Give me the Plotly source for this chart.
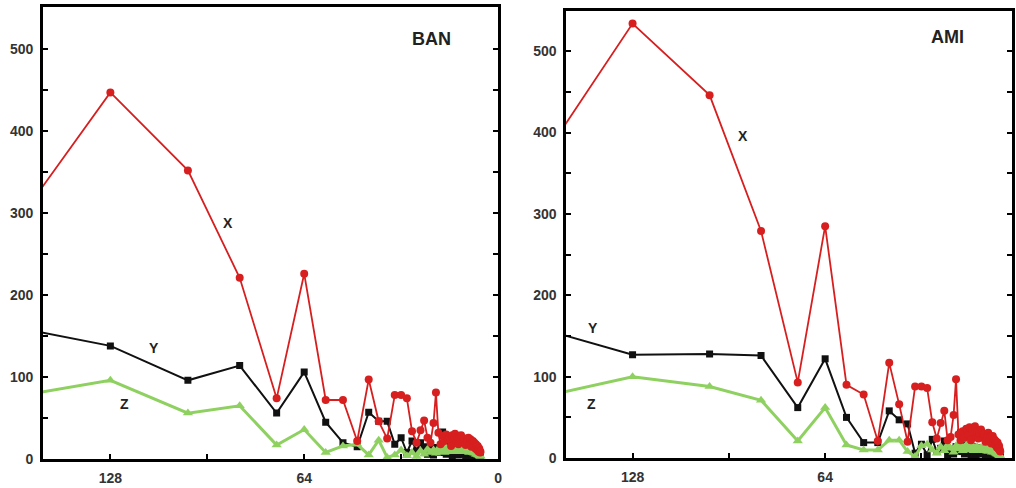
import plotly.graph_objects as go

# Shared abscissa (harmonic positions)
x_pos = [170.7, 128, 102.4, 85.3, 73.1, 64, 56.9, 51.2, 46.5, 42.7, 39.4, 36.6, 34.1, 32.0,
         30.1, 28.4, 26.9, 25.6, 24.4, 23.3, 22.3, 21.3, 20.5, 19.7, 19.0, 18.3, 17.7, 17.1,
         16.5, 16.0, 15.5, 15.1, 14.6, 14.2, 13.8, 13.5, 13.1, 12.8, 12.2, 11.6, 11.1, 10.7,
         10.2, 9.8, 9.5, 9.1, 8.8, 8.5, 8.3, 8.0, 7.8, 7.5, 7.3, 7.1, 6.9, 6.7, 6.6, 6.4,
         6.2, 6.1, 5.9, 5.8]

# BAN panel
ban_x = [228, 447, 352, 221, 74, 226, 72, 72, 22, 97, 46, 25, 78, 78, 74, 34, 20, 35, 47, 26,
         20, 44, 81, 32, 18, 28, 22, 30, 24, 27, 16, 29, 24, 31, 20, 27, 18, 26, 29, 21, 25,
         17, 23, 26, 18, 24, 15, 21, 22, 16, 20, 13, 18, 15, 11, 16, 12, 9, 13, 10, 8, 9]
ban_y = [169, 138, 96, 114, 56, 106, 45, 20, 15, 57, 46, 46, 18, 26, 8, 22, 10, 20, 15, 6,
         12, 5, 14, 10, 8, 33, 12, 6, 18, 9, 14, 4, 11, 16, 7, 12, 5, 14, 9, 6, 12, 4, 10, 7,
         3, 9, 6, 2, 8, 5, 3, 6, 4, 2, 5, 3, 1, 4, 2, 1, 3, 2]
ban_z = [69, 96, 56, 65, 17, 36, 8, 16, 18, 5, 23, 2, 5, 11, 4, 8, 3, 10, 6, 12, 8, 11, 7,
         13, 9, 12, 8, 14, 10, 12, 9, 13, 11, 14, 9, 12, 10, 13, 11, 12, 9, 11, 10, 12, 8,
         11, 9, 10, 8, 9, 7, 9, 6, 8, 6, 7, 5, 6, 5, 4, 4, 3]

# AMI panel
ami_x = [297, 534, 446, 279, 93, 285, 90, 78, 21, 117, 66, 20, 88, 88, 86, 44, 24, 43, 58,
         22, 26, 53, 97, 29, 22, 33, 25, 36, 28, 38, 22, 34, 30, 39, 26, 33, 24, 31, 35, 25,
         30, 20, 28, 31, 22, 27, 18, 25, 27, 19, 23, 16, 21, 18, 13, 19, 14, 11, 15, 12, 9, 8]
ami_y = [172, 127, 128, 126, 62, 122, 50, 19, 19, 58, 47, 42, 6, 17, 4, 23, 8, 12, 21, 4, 9,
         5, 14, 8, 31, 10, 5, 16, 8, 12, 4, 14, 7, 11, 3, 13, 6, 9, 12, 5, 10, 3, 8, 11, 4, 7,
         2, 9, 5, 3, 6, 2, 5, 3, 1, 4, 2, 1, 3, 1, 2, 1]
ami_z = [65, 100, 88, 71, 21, 62, 16, 10, 10, 22, 22, 8, 2, 15, 17, 10, 6, 14, 9, 16, 12, 7,
         15, 11, 17, 9, 13, 16, 10, 14, 12, 15, 9, 13, 11, 14, 10, 12, 13, 9, 12, 10, 11, 8,
         11, 9, 10, 7, 9, 8, 7, 8, 6, 7, 5, 6, 5, 4, 4, 3, 3, 2]

x_ticks = [128, 64, 0]
x_minor = [96, 32]
y_ticks = [0, 100, 200, 300, 400, 500]
y_minor = [50, 150, 250, 350, 450, 550]

RED = "#d71f1f"
BLACK = "#111111"
GREEN = "#8fd160"

fig = go.Figure()


def add_panel(xa, ya, xs, ys, zs):
    fig.add_trace(go.Scatter(x=x_pos, y=ys, mode="lines+markers", xaxis=xa, yaxis=ya,
                             line=dict(color=BLACK, width=2),
                             marker=dict(symbol="square", size=7, color=BLACK)))
    fig.add_trace(go.Scatter(x=x_pos, y=zs, mode="lines+markers", xaxis=xa, yaxis=ya,
                             line=dict(color=GREEN, width=3),
                             marker=dict(symbol="triangle-up", size=9, color=GREEN)))
    fig.add_trace(go.Scatter(x=x_pos, y=xs, mode="lines+markers", xaxis=xa, yaxis=ya,
                             line=dict(color=RED, width=1.8),
                             marker=dict(symbol="circle", size=8, color=RED)))


add_panel("x", "y", ban_x, ban_y, ban_z)
add_panel("x2", "y2", ami_x, ami_y, ami_z)

tickfont = dict(family="Liberation Sans, Arial", size=14, color="#333333", weight="bold")
common_x = dict(showline=True, linecolor="black", linewidth=2.5, mirror=True, showgrid=False,
                zeroline=False, ticks="inside", ticklen=5, tickwidth=1.5, tickcolor="black",
                tickvals=x_ticks, ticktext=[str(v) for v in x_ticks], tickfont=tickfont,
                minor=dict(tickvals=x_minor, ticks="inside", ticklen=5, tickwidth=1.5,
                           tickcolor="black"),
                ticklabelstandoff=4)
common_y = dict(showline=True, linecolor="black", linewidth=2.5, mirror="ticks", showgrid=False,
                zeroline=False, ticks="inside", ticklen=5, tickwidth=1.5, tickcolor="black",
                tickvals=y_ticks, ticktext=[str(v) for v in y_ticks], tickfont=tickfont,
                minor=dict(tickvals=y_minor, ticks="inside", ticklen=5, tickwidth=1.5,
                           tickcolor="black"),
                ticklabelstandoff=4)

W, H = 1016, 488
fig.update_layout(
    width=W, height=H, margin=dict(l=0, r=0, t=0, b=0),
    paper_bgcolor="white", plot_bgcolor="white", showlegend=False,
    xaxis=dict(domain=[43 / W, 500 / W], range=[150.3, 0], anchor="y", **common_x),
    yaxis=dict(domain=[(H - 466.7) / H, (H - 7.3) / H], range=[0, 551], anchor="x", **common_y),
    xaxis2=dict(domain=[568.3 / W, 1.0], range=[150.1, 1.9], anchor="y2", **common_x),
    yaxis2=dict(domain=[(H - 465.7) / H, (H - 11.5) / H], range=[0, 549], anchor="x2", **common_y),
)

lab = dict(family="Liberation Sans, Arial", size=14, color="#222222", weight="bold")
ttl = dict(family="Liberation Sans, Arial", size=18, color="#222222", weight="bold")
annots = [
    ("x", "y", 21.9, 512, "BAN", ttl),
    ("x", "y", 89, 288, "X", lab),
    ("x", "y", 113.5, 135, "Y", lab),
    ("x", "y", 123.3, 67, "Z", lab),
    ("x2", "y2", 23.4, 517, "AMI", ttl),
    ("x2", "y2", 91.3, 396, "X", lab),
    ("x2", "y2", 141, 160, "Y", lab),
    ("x2", "y2", 141.6, 66, "Z", lab),
]
for xr, yr, ax, ay, t, f in annots:
    fig.add_annotation(xref=xr, yref=yr, x=ax, y=ay, text=t, showarrow=False, font=f)

fig.write_html("out.html")
